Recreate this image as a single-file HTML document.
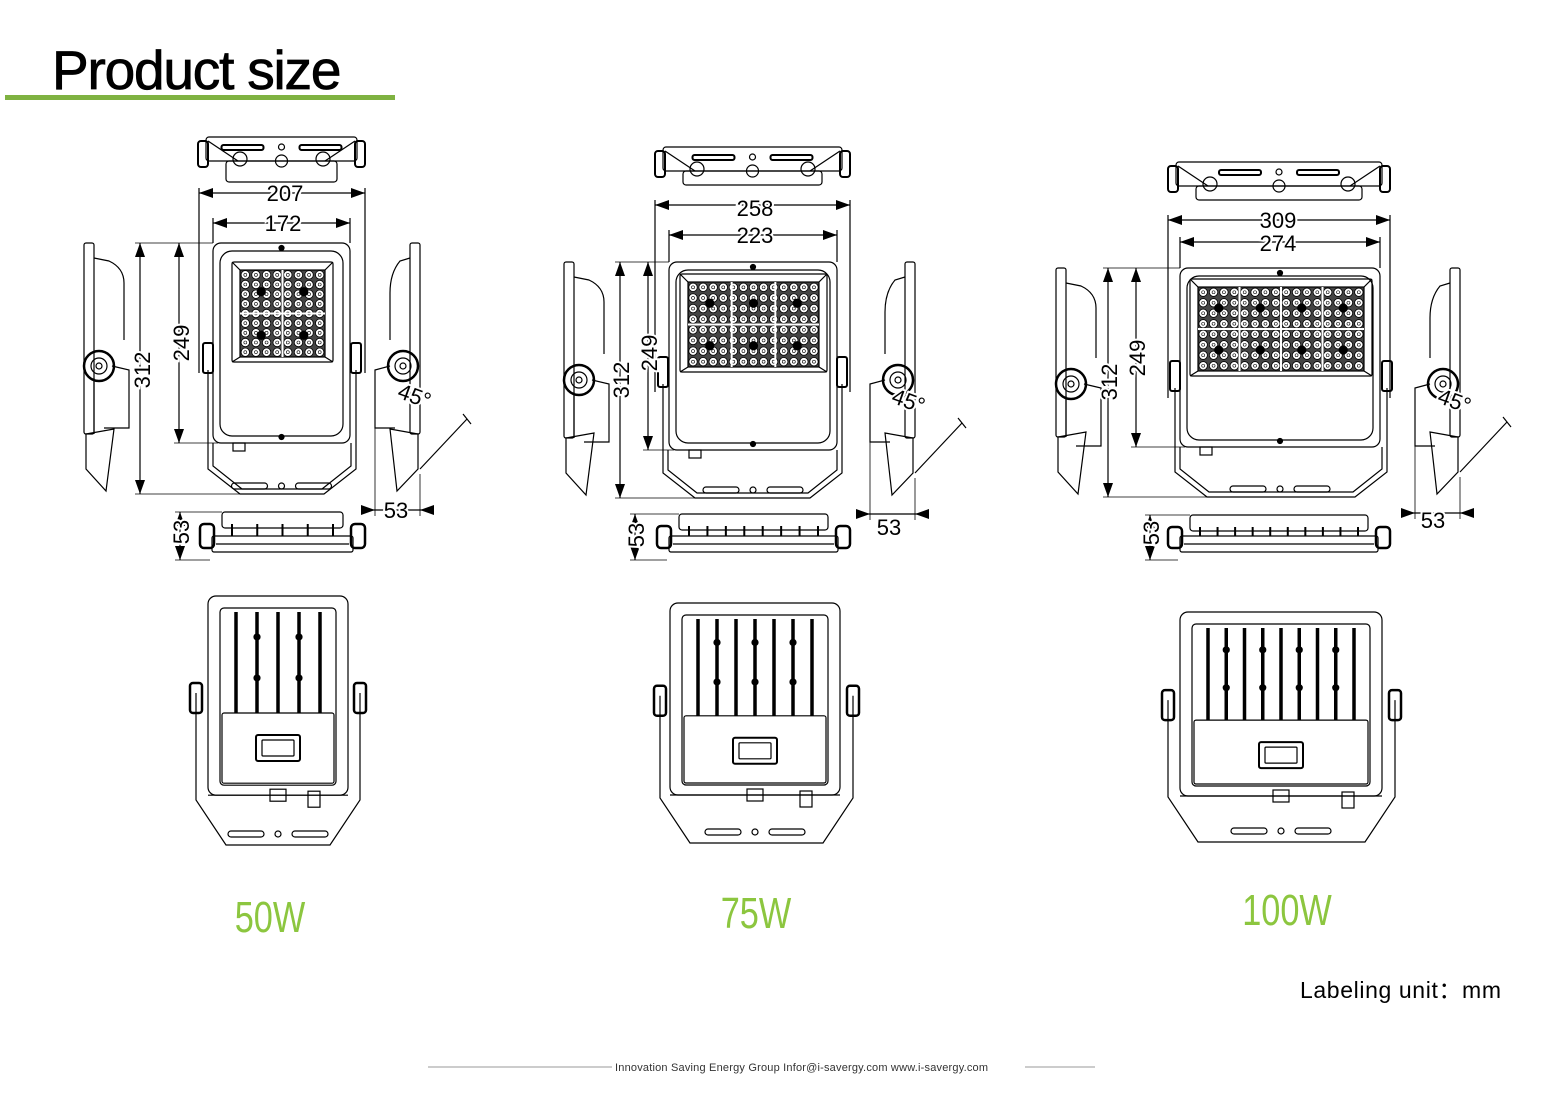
<!DOCTYPE html>
<html><head><meta charset="utf-8"><style>
html,body{margin:0;padding:0;background:#fff;}
svg{display:block}
.d{font-family:"Liberation Sans",sans-serif;font-size:22px;fill:#000;paint-order:stroke;stroke:#fff;stroke-width:4px}
.w{font-family:"Liberation Sans",sans-serif;font-size:44px;fill:#8cc63f}
</style></head><body>
<svg id="s" width="1559" height="1102" viewBox="0 0 1559 1102" xmlns="http://www.w3.org/2000/svg">
<rect width="1559" height="1102" fill="#fff"/>
<text x="52" y="89" font-family="Liberation Sans, sans-serif" font-size="55" fill="#000" stroke="#000" stroke-width="0.8" letter-spacing="-1.2">Product size</text>
<rect x="5" y="95" width="390" height="5" fill="#7fb241"/>
<g id="g" fill="none" stroke="#000" stroke-width="1.2"></g>
<g id="t">
<text class="d" x="285" y="201" text-anchor="middle">207</text>
<text class="d" x="283" y="231" text-anchor="middle">172</text>
<text class="d" transform="translate(150,370) rotate(-90)" text-anchor="middle">312</text>
<text class="d" transform="translate(189,343) rotate(-90)" text-anchor="middle">249</text>
<text class="d" x="396" y="518" text-anchor="middle">53</text>
<text class="d" transform="translate(189,532) rotate(-90)" text-anchor="middle">53</text>
<text class="d" transform="translate(412,403) rotate(20)" text-anchor="middle">45°</text>

<text class="d" x="755" y="216" text-anchor="middle">258</text>
<text class="d" x="755" y="243" text-anchor="middle">223</text>
<text class="d" transform="translate(629,380) rotate(-90)" text-anchor="middle">312</text>
<text class="d" transform="translate(657,353) rotate(-90)" text-anchor="middle">249</text>
<text class="d" x="889" y="535" text-anchor="middle">53</text>
<text class="d" transform="translate(644,535) rotate(-90)" text-anchor="middle">53</text>
<text class="d" transform="translate(906,408) rotate(20)" text-anchor="middle">45°</text>

<text class="d" x="1278" y="228" text-anchor="middle">309</text>
<text class="d" x="1278" y="251" text-anchor="middle">274</text>
<text class="d" transform="translate(1117,382) rotate(-90)" text-anchor="middle">312</text>
<text class="d" transform="translate(1145,358) rotate(-90)" text-anchor="middle">249</text>
<text class="d" x="1433" y="528" text-anchor="middle">53</text>
<text class="d" transform="translate(1159,533) rotate(-90)" text-anchor="middle">53</text>
<text class="d" transform="translate(1452,408) rotate(20)" text-anchor="middle">45°</text>

<text class="w" transform="translate(270,932) scale(0.78,1)" text-anchor="middle">50W</text>
<text class="w" transform="translate(756,928) scale(0.78,1)" text-anchor="middle">75W</text>
<text class="w" transform="translate(1287,925) scale(0.78,1)" text-anchor="middle">100W</text>
<text x="1300" y="998" font-family="Liberation Sans, sans-serif" font-size="23" fill="#000" textLength="201">Labeling unit：mm</text>
<text x="615" y="1071" font-family="Liberation Sans, sans-serif" font-size="11" fill="#333" textLength="373">Innovation Saving Energy Group  Infor@i-savergy.com  www.i-savergy.com</text>
<line x1="428" y1="1067" x2="612" y2="1067" stroke="#999"/>
<line x1="1025" y1="1067" x2="1095" y2="1067" stroke="#999"/>
</g>
</svg>
<script>
var S=[];
function r(x,y,w,h,rx,ex){S.push('<rect x="'+x+'" y="'+y+'" width="'+w+'" height="'+h+'" rx="'+(rx||0)+'" '+(ex||'')+'/>');}
function l(a,b,c,d,ex){S.push('<line x1="'+a+'" y1="'+b+'" x2="'+c+'" y2="'+d+'" '+(ex||'')+'/>');}
function c(x,y,rr,ex){S.push('<circle cx="'+x+'" cy="'+y+'" r="'+rr+'" '+(ex||'')+'/>');}
function p(d,ex){S.push('<path d="'+d+'" '+(ex||'')+'/>');}
function tri(x,y,dir){var a=14,b=5,d;
 if(dir=='r')d='M'+x+' '+y+'L'+(x-a)+' '+(y-b)+'L'+(x-a)+' '+(y+b)+'Z';
 if(dir=='l')d='M'+x+' '+y+'L'+(x+a)+' '+(y-b)+'L'+(x+a)+' '+(y+b)+'Z';
 if(dir=='d')d='M'+x+' '+y+'L'+(x-b)+' '+(y-a)+'L'+(x+b)+' '+(y-a)+'Z';
 if(dir=='u')d='M'+x+' '+y+'L'+(x-b)+' '+(y+a)+'L'+(x+b)+' '+(y+a)+'Z';
 p(d,'fill="#000" stroke="none"');}
function dimH(x1,x2,y){l(x1,y,x2,y);tri(x1,y,'l');tri(x2,y,'r');}
function dimV(x,y1,y2){l(x,y1,x,y2);tri(x,y1,'u');tri(x,y2,'d');}
function unit(u){
 var L=u.L,R=u.R,T=u.T,Fb=u.Fb,B=u.B,cx=(L+R)/2;
 dimH(u.tp[0],u.tp[1],u.d1);dimH(L,R,u.d2);
 l(u.tp[0],u.d1-5,u.tp[0],T+130);l(u.tp[1],u.d1-5,u.tp[1],T+130);
 l(L,u.d2-5,L,T);l(R,u.d2-5,R,T);
 dimV(u.v1,T,B);dimV(u.v2,T,Fb);
 l(u.v1-5,T,L,T,'stroke-width="0.8"');l(u.v1-5,B,cx-30,B,'stroke-width="0.8"');l(u.v2-5,Fb,L+5,Fb,'stroke-width="0.8"');
 r(L,T,R-L,Fb-T,8);r(L+7,T+8,R-L-14,Fb-T-15,12);
 c(cx,T+5,2.5,'fill="#000"');c(cx,Fb-6,2.5,'fill="#000"');
 r(u.hL,u.hT,u.hR-u.hL,u.hB-u.hT,2);
 var iL=u.hL+8,iR=u.hR-8,iT=u.hT+8,iB=u.hB-5;
 r(iL,iT,iR-iL,iB-iT,0,'fill="#444"');
 l(u.hL,u.hT,iL,iT);l(u.hR,u.hT,iR,iT);l(u.hL,u.hB,iL,iB);l(u.hR,u.hB,iR,iB);
 var cols=Math.round((iR-iL)/10.2),rows=Math.round((iB-iT)/10.2),sx=(iR-iL)/cols,sy=(iB-iT)/rows;
 for(var i=0;i<cols;i++)for(var j=0;j<rows;j++){var x=iL+sx*(i+.5),y=iT+sy*(j+.5);c(x,y,4.2,'fill="#fff" stroke-width="0.8"');c(x,y,1.5,'stroke-width="0.6"');}
 for(var m=1;m<u.mx;m++){var x=iL+(iR-iL)*m/u.mx;l(x,iT,x,iB,'stroke="#fff" stroke-width="2"');}
 for(var m=1;m<u.my;m++){var y=iT+(iB-iT)*m/u.my;l(iL,y,iR,y,'stroke="#fff" stroke-width="2"');}
 for(var a=0;a<u.mx;a++)for(var b=0;b<u.my;b++)c(iL+(iR-iL)*(a+.5)/u.mx,iT+(iB-iT)*(b+.5)/u.my,4,'fill="#000"');
 p('M'+u.bL+' '+(u.kY+12)+'L'+u.bL+' '+(B-25)+'L'+(u.bL+32)+' '+B+'L'+(u.bR-32)+' '+B+'L'+u.bR+' '+(B-25)+'L'+u.bR+' '+(u.kY+12));
 p('M'+(u.bL+5)+' '+Fb+'L'+(u.bL+5)+' '+(B-28)+'L'+(u.bL+34)+' '+(B-5)+'L'+(u.bR-34)+' '+(B-5)+'L'+(u.bR-5)+' '+(B-28)+'L'+(u.bR-5)+' '+Fb);
 r(cx-50,B-11,36,6,3);r(cx+14,B-11,36,6,3);c(cx,B-8,3);
 r(L+20,Fb,12,8);
 r(u.bL-5,u.kY-15,10,30,2,'stroke-width="2"');r(u.bR-5,u.kY-15,10,30,2,'stroke-width="2"');
 var t=u.top;r(t[0]+8,t[2]+2,t[1]-t[0]-16,24,3);r(t[0],t[2]+6,10,26,3,'stroke-width="2"');r(t[1]-10,t[2]+6,10,26,3,'stroke-width="2"');
 r(t[0]+28,t[2]+26,t[1]-t[0]-56,t[3]-t[2]-26,3);
 l(t[0]+10,t[2]+6,t[0]+40,t[2]+26);l(t[1]-10,t[2]+6,t[1]-40,t[2]+26);
 var tm=(t[0]+t[1])/2;r(tm-60,t[2]+10,42,5,2,'stroke-width="2"');r(tm+18,t[2]+10,42,5,2,'stroke-width="2"');c(tm,t[2]+12,3);
 c(t[0]+42,t[2]+24,7);c(tm,t[2]+26,6);c(t[1]-42,t[2]+24,7);
 var bt=u.bot;r(bt[0]+22,bt[2],bt[1]-bt[0]-44,16,3);
 r(bt[0]+12,bt[3]-16,bt[1]-bt[0]-24,16,2);l(bt[0]+16,bt[3]-8,bt[1]-16,bt[3]-8);
 r(bt[0],bt[2]+12,14,bt[3]-bt[2]-16,4,'stroke-width="2.5"');r(bt[1]-14,bt[2]+12,14,bt[3]-bt[2]-16,4,'stroke-width="2.5"');
 var nf=u.fins;for(var i=0;i<nf;i++){var x=bt[0]+32+(bt[1]-bt[0]-64)*i/(nf-1);l(x,bt[2]+12,x,bt[3]-16,'stroke-width="2"');}
 dimV(u.bv,bt[2],bt[3]+8);l(u.bv-5,bt[2],bt[0]+22,bt[2],'stroke-width="0.8"');l(u.bv-5,bt[3]+8,bt[0]+10,bt[3]+8,'stroke-width="0.8"');
 var a=u.ls;r(a,T,10,B-T-60,2);p('M'+(a+10)+' '+(T+15)+'L'+(a+25)+' '+(T+18)+'Q'+(a+40)+' '+(T+25)+' '+(a+40)+' '+(T+40)+'L'+(a+40)+' '+(u.kY-18));
 c(a+15,u.kY+8,15,'stroke-width="2.5"');c(a+15,u.kY+8,8);c(a+15,u.kY+8,3);
 p('M'+(a+28)+' '+(u.kY+8)+'L'+(a+45)+' '+(u.kY+12)+'L'+(a+45)+' '+(u.kY+70)+'L'+(a+20)+' '+(u.kY+70));
 p('M'+(a+2)+' '+(B-60)+'L'+(a+30)+' '+(B-65)+'L'+(a+22)+' '+(B-3)+'L'+(a+2)+' '+(B-25)+'Z');
 l(a+10,u.kY+20,a+10,B-60);
 var a2=u.rs;r(a2+35,T,10,B-T-60,2);p('M'+(a2+35)+' '+(T+15)+'L'+(a2+25)+' '+(T+18)+'Q'+(a2+15)+' '+(T+30)+' '+(a2+15)+' '+(T+50)+'L'+(a2+15)+' '+(u.kY-18));
 c(a2+28,u.kY+8,15,'stroke-width="2.5"');c(a2+28,u.kY+8,8);c(a2+28,u.kY+8,3);
 p('M'+(a2+15)+' '+(u.kY+8)+'L'+a2+' '+(u.kY+12)+'L'+a2+' '+(u.kY+70)+'L'+(a2+20)+' '+(u.kY+70));
 p('M'+(a2+43)+' '+(B-60)+'L'+(a2+15)+' '+(B-65)+'L'+(a2+22)+' '+(B-3)+'L'+(a2+43)+' '+(B-25)+'Z');
 l(a2+45,B-25,a2+92,B-75);l(a2+88,B-80,a2+96,B-70);
 l(a2,u.kY+70,a2,B+22,'stroke-width="0.8"');l(a2+45,B-20,a2+45,B+22,'stroke-width="0.8"');
 l(a2-10,B+16,a2+55,B+16);tri(a2,B+16,'r');tri(a2+45,B+16,'l');
 var k=u.back,kx0=k[0],kx1=k[1],ky0=k[2],ky1=k[3],km=(kx0+kx1)/2,kb=ky0+(ky1-ky0)*0.8;
 r(kx0,ky0,kx1-kx0,kb-ky0,8);r(kx0+12,ky0+12,kx1-kx0-24,kb-ky0-22,4);
 var bxT=ky0+(ky1-ky0)*0.47;r(kx0+14,bxT,kx1-kx0-28,kb-bxT-12,2);
 r(km-22,bxT+22,44,26,2,'stroke-width="2"');r(km-16,bxT+27,32,16,1);
 for(var i=0;i<u.bf;i++){var x=kx0+28+(kx1-kx0-56)*i/(u.bf-1);l(x,ky0+16,x,bxT,'stroke-width="3.5"');}
 for(var i=1;i<u.bf-1;i+=2){var x=kx0+28+(kx1-kx0-56)*i/(u.bf-1);c(x,ky0+(bxT-ky0)*0.35,3,'fill="#000"');c(x,ky0+(bxT-ky0)*0.7,3,'fill="#000"');}
 p('M'+k[4]+' '+(bxT-20)+'L'+k[4]+' '+(ky1-45)+'L'+(k[4]+30)+' '+ky1+'L'+(k[5]-30)+' '+ky1+'L'+k[5]+' '+(ky1-45)+'L'+k[5]+' '+(bxT-20));
 l(kx0,kb,kx1,kb);r(km-50,ky1-14,36,6,3);r(km+14,ky1-14,36,6,3);c(km,ky1-11,3);
 r(k[4]-6,bxT-30,12,30,3,'stroke-width="2.5"');r(k[5]-6,bxT-30,12,30,3,'stroke-width="2.5"');
 r(km-8,kb-6,16,12);r(kx1-40,kb-4,12,16);
}
unit({L:213,R:350,T:243,Fb:443,B:494,bL:208,bR:356,hL:232,hR:333,hT:262,hB:362,mx:2,my:2,kY:358,
 tp:[199,365],d1:193,d2:223,v1:140,v2:179,top:[198,365,135,182],bot:[200,365,512,552],fins:5,bv:180,ls:84,rs:375,
 back:[208,348,596,845,196,360],bf:5});
unit({L:669,R:837,T:262,Fb:450,B:498,bL:663,bR:842,hL:680,hR:827,hT:274,hB:372,mx:3,my:2,kY:372,
 tp:[655,850],d1:205,d2:235,v1:620,v2:648,top:[655,850,145,185],bot:[657,850,514,552],fins:8,bv:635,ls:564,rs:870,
 back:[670,840,603,843,660,853],bf:7});
unit({L:1180,R:1380,T:268,Fb:447,B:497,bL:1175,bR:1387,hL:1190,hR:1372,hT:279,hB:376,mx:4,my:2,kY:376,
 tp:[1168,1390],d1:220,d2:242,v1:1108,v2:1136,top:[1168,1390,160,200],bot:[1168,1390,515,552],fins:10,bv:1150,ls:1056,rs:1415,
 back:[1180,1382,612,842,1168,1395],bf:9});
document.getElementById('g').innerHTML=S.join('');
</script>
</body></html>
